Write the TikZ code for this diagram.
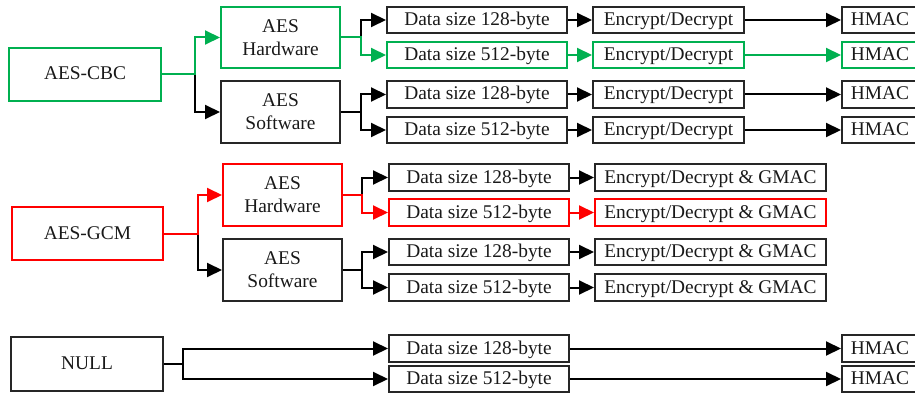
\documentclass[tikz,border=0pt]{standalone}
\usepackage{fontspec}
\setmainfont{Liberation Serif}
\usetikzlibrary{arrows.meta}
\definecolor{cgreen}{RGB}{0,176,80}
\definecolor{cred}{RGB}{255,0,0}
\tikzset{
  base/.style={draw=black!85, line width=2pt, inner sep=0pt, align=center,
    font=\fontsize{19.4}{23}\selectfont, text=black!90},
  bx/.style={base, text height=14pt, text depth=3pt},
  bxx/.style={base},
  conn/.style={line width=2pt, draw=black, -{Triangle[length=15pt,width=14pt]}},
}
\begin{document}
\begin{tikzpicture}[x=1pt,y=-1pt]
\useasboundingbox (0,0) rectangle (915,393);
\clip (0,0) rectangle (915,393);
% ---------- CBC ----------
\node[bx, draw=cgreen, minimum width=152pt, minimum height=53pt] (cbc) at (85,74.5) {AES-CBC};
\node[bxx, draw=cgreen, minimum width=119pt, minimum height=61pt] (hw1) at (280.5,37.5) {AES\\Hardware};
\node[bxx, minimum width=119pt, minimum height=62pt] (sw1) at (280.5,112) {AES\\Software};
\node[bx, minimum width=180pt, minimum height=26pt] (d11) at (477,20) {Data size 128-byte};
\node[bx, draw=cgreen, minimum width=180pt, minimum height=26pt] (d12) at (477,55) {Data size 512-byte};
\node[bx, minimum width=180pt, minimum height=27pt] (d13) at (477,94.5) {Data size 128-byte};
\node[bx, minimum width=180pt, minimum height=26pt] (d14) at (477,130) {Data size 512-byte};
\node[bx, minimum width=151pt, minimum height=26pt] (e11) at (668.5,20) {Encrypt/Decrypt};
\node[bx, draw=cgreen, minimum width=151pt, minimum height=26pt] (e12) at (668.5,55) {Encrypt/Decrypt};
\node[bx, minimum width=151pt, minimum height=27pt] (e13) at (668.5,94.5) {Encrypt/Decrypt};
\node[bx, minimum width=151pt, minimum height=26pt] (e14) at (668.5,130) {Encrypt/Decrypt};
\node[bx, minimum width=90pt, minimum height=26pt] (h11) at (887,20) {HMAC\hspace*{14pt}};
\node[bx, draw=cgreen, minimum width=90pt, minimum height=26pt] (h12) at (887,55) {HMAC\hspace*{14pt}};
\node[bx, minimum width=90pt, minimum height=27pt] (h13) at (887,94.5) {HMAC\hspace*{14pt}};
\node[bx, minimum width=90pt, minimum height=26pt] (h14) at (887,130) {HMAC\hspace*{14pt}};
\draw[conn] (cbc.east) -- ++(33,0) |- (sw1.west);
\draw[conn, draw=cgreen] (cbc.east) -- ++(33,0) |- (hw1.west);
\draw[conn] (hw1.east) -- ++(20,0) |- (d11.west);
\draw[conn, draw=cgreen] (hw1.east) -- ++(20,0) |- (d12.west);
\draw[conn] (sw1.east) -- ++(20,0) |- (d13.west);
\draw[conn] (sw1.east) -- ++(20,0) |- (d14.west);
\draw[conn] (d11) -- (e11);
\draw[conn, draw=cgreen] (d12) -- (e12);
\draw[conn] (d13) -- (e13);
\draw[conn] (d14) -- (e14);
\draw[conn] (e11) -- (h11);
\draw[conn, draw=cgreen] (e12) -- (h12);
\draw[conn] (e13) -- (h13);
\draw[conn] (e14) -- (h14);
% ---------- GCM ----------
\node[bx, draw=cred, minimum width=151pt, minimum height=53pt] (gcm) at (87.5,233.5) {AES-GCM};
\node[bxx, draw=cred, minimum width=119pt, minimum height=62pt] (hw2) at (282.5,195) {AES\\Hardware};
\node[bxx, minimum width=119pt, minimum height=62pt] (sw2) at (282.5,270) {AES\\Software};
\node[bx, minimum width=180pt, minimum height=27pt] (d21) at (479,177.5) {Data size 128-byte};
\node[bx, draw=cred, minimum width=180pt, minimum height=27pt] (d22) at (479,212.5) {Data size 512-byte};
\node[bx, minimum width=180pt, minimum height=26pt] (d23) at (479,252) {Data size 128-byte};
\node[bx, minimum width=180pt, minimum height=27pt] (d24) at (479,287.5) {Data size 512-byte};
\node[bx, minimum width=231pt, minimum height=27pt] (g21) at (710.5,177.5) {Encrypt/Decrypt \& GMAC};
\node[bx, draw=cred, minimum width=231pt, minimum height=27pt] (g22) at (710.5,212.5) {Encrypt/Decrypt \& GMAC};
\node[bx, minimum width=231pt, minimum height=26pt] (g23) at (710.5,252) {Encrypt/Decrypt \& GMAC};
\node[bx, minimum width=231pt, minimum height=27pt] (g24) at (710.5,287.5) {Encrypt/Decrypt \& GMAC};
\draw[conn] (gcm.east) -- ++(34,0) |- (sw2.west);
\draw[conn, draw=cred] (gcm.east) -- ++(34,0) |- (hw2.west);
\draw[conn] (hw2.east) -- ++(19,0) |- (d21.west);
\draw[conn, draw=cred] (hw2.east) -- ++(19,0) |- (d22.west);
\draw[conn] (sw2.east) -- ++(19,0) |- (d23.west);
\draw[conn] (sw2.east) -- ++(19,0) |- (d24.west);
\draw[conn] (d21) -- (g21);
\draw[conn, draw=cred] (d22) -- (g22);
\draw[conn] (d23) -- (g23);
\draw[conn] (d24) -- (g24);
% ---------- NULL ----------
\node[bx, minimum width=152pt, minimum height=54pt] (null) at (87,364) {NULL};
\node[bx, minimum width=180pt, minimum height=27pt] (d31) at (479,348.5) {Data size 128-byte};
\node[bx, minimum width=180pt, minimum height=26pt] (d32) at (479,379) {Data size 512-byte};
\node[bx, minimum width=90pt, minimum height=27pt] (h31) at (887,348.5) {HMAC\hspace*{14pt}};
\node[bx, minimum width=90pt, minimum height=26pt] (h32) at (887,379) {HMAC\hspace*{14pt}};
\draw[conn] (null.east) -- ++(19,0) |- (d31.west);
\draw[conn] (null.east) -- ++(19,0) |- (d32.west);
\draw[conn] (d31) -- (h31);
\draw[conn] (d32) -- (h32);
\end{tikzpicture}
\end{document}
